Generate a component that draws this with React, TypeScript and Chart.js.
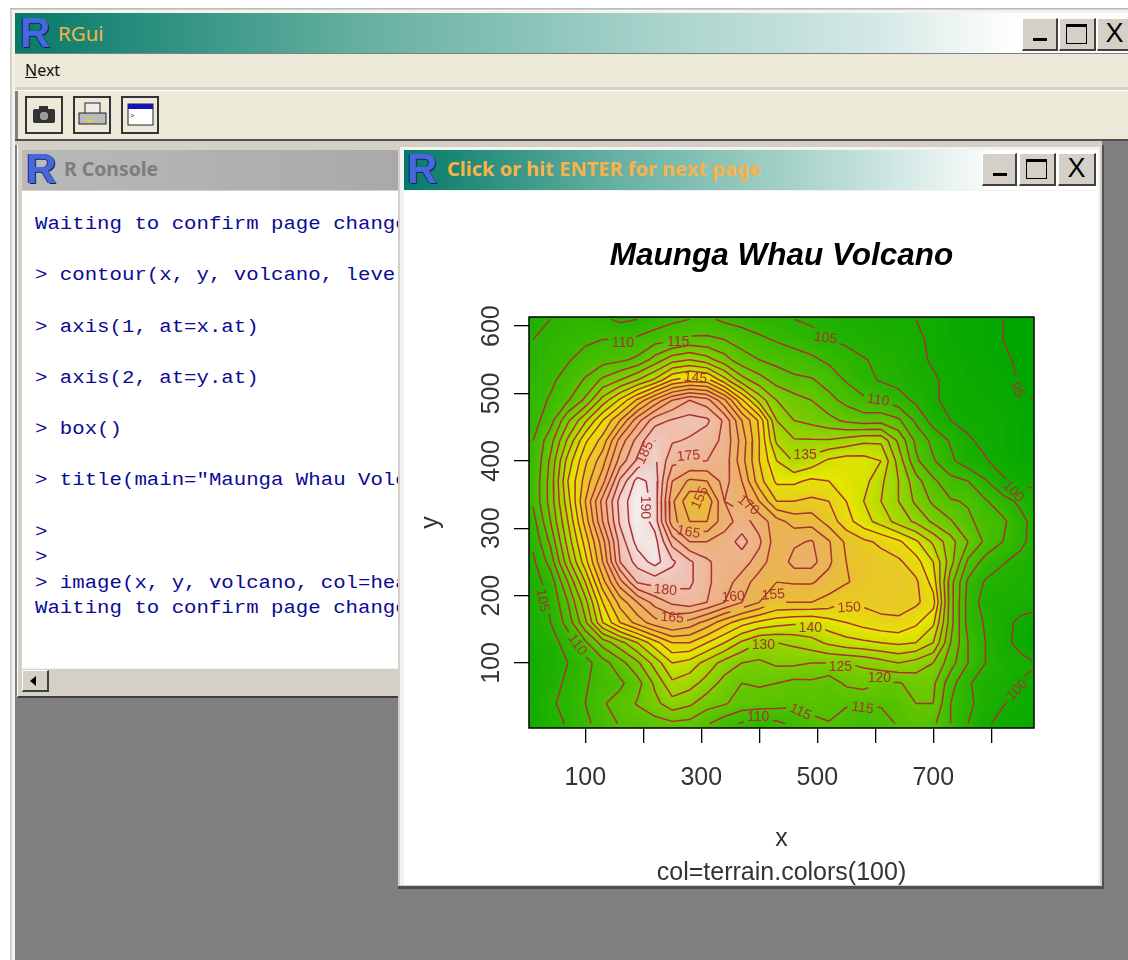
import React, { useEffect, useRef } from "react";
import { Chart, registerables } from "chart.js";

Chart.register(...registerables);

const chartTitle = "Maunga Whau Volcano";
const chartSubtitle = "col=terrain.colors(100)";
const xTicks = [100, 200, 300, 400, 500, 600, 700, 800];
const xTickLabels = ["100", "", "300", "", "500", "", "700", ""];
const yTicks = [100, 200, 300, 400, 500, 600];
const levels = [95, 100, 105, 110, 115, 120, 125, 130, 135, 140, 145, 150, 155, 160, 165, 170, 175, 180, 185, 190];

const xGrid = [10, 40, 70, 100, 130, 160, 190, 220, 250, 280, 310, 340, 370, 400, 430, 460, 490, 520, 550, 580, 610, 640, 670, 700, 730, 760, 790, 820, 850, 870];
const yGrid = [610, 580, 550, 520, 490, 460, 430, 400, 370, 340, 310, 280, 250, 220, 190, 160, 130, 100, 70, 40, 10];
const heights = [
  [103, 105, 107, 107, 106, 104, 105, 107, 109, 110, 111, 109, 108, 107, 106, 105, 104, 103, 102, 102, 101, 101, 100, 99, 98, 97, 96, 95, 94, 94],
  [105, 107, 108, 109, 110, 110, 111, 113, 114, 116, 116, 115, 113, 111, 109.5, 108, 107, 105, 104, 103, 102, 102, 101, 99, 98, 97, 96, 95, 94, 94],
  [106, 108, 109.5, 112, 113, 114, 116, 122, 128, 130, 127, 122, 117, 115, 113.5, 112.5, 111, 109, 107, 105.3, 104, 103, 101, 99.5, 98.5, 97.5, 96.5, 95.5, 94.5, 94],
  [107, 109, 112, 115.5, 121, 125, 130, 136, 145, 148, 147, 137, 127, 122, 118, 116, 115.5, 113, 109.5, 106.5, 104.5, 103.5, 102, 100.5, 99, 98, 97.5, 96.5, 94.7, 94],
  [108, 110.5, 114.5, 121, 132, 141, 151, 161, 170, 175, 172, 161, 146, 133, 125, 122, 120, 116.5, 113.5, 111, 110, 107, 104, 100.5, 99, 98.5, 98, 97, 96, 95],
  [108, 113, 124, 134, 145, 155, 168, 178, 180.5, 182, 181, 174, 160, 149, 130, 125, 123.5, 121.5, 119, 117.5, 118, 116, 109, 103, 100, 99, 99, 98, 97, 95],
  [110, 118, 131, 144, 152, 167, 177, 185, 180.5, 179.5, 177, 174, 163, 150, 134, 130.5, 130.5, 130.5, 132, 134, 134, 124, 114, 108.5, 104.5, 100.5, 99, 98, 97, 97],
  [110, 121, 137, 149, 158, 172, 181, 186, 176.5, 175.5, 175, 173, 162, 150, 140, 134.5, 137, 141, 142.5, 142, 140, 128, 116, 110.5, 106, 102, 100.3, 98.5, 97, 97],
  [110.8, 122, 140, 152, 163, 181, 192, 188, 170, 164, 165, 172, 165, 152, 144, 144, 146, 145, 142.5, 142, 136, 130, 122, 116, 111.5, 110, 105.5, 100.5, 99, 99],
  [110.8, 122, 138, 155, 172, 187, 194, 188, 166, 156, 156, 170, 168, 160, 150, 150, 151, 150, 145, 140, 135, 130, 124, 119, 115.5, 114.5, 110.5, 107, 104, 102],
  [108, 120, 135, 152, 170, 186, 194, 188, 167, 160, 160, 168, 172, 168, 162, 158, 158, 153, 147, 142, 138, 133, 129, 124, 120.5, 116, 113, 111, 106.5, 104],
  [106, 116, 132, 147, 163, 182, 192, 192, 178, 170, 170, 172, 177, 171, 162, 164, 165.5, 160.5, 154, 151, 149, 146, 141, 134, 127, 120, 114, 110, 106, 104],
  [104, 112, 128, 143, 160, 180, 187, 192, 186, 181, 176, 172, 172, 168, 161, 167, 167, 161, 155, 153.5, 152, 151, 147, 140, 127, 114, 108, 105.3, 103.8, 102],
  [103, 107, 120, 135, 153, 168, 180.5, 182, 182, 181, 176, 172, 168, 162, 160, 160.5, 160.5, 158, 155.5, 153, 151.5, 152, 151, 143, 122, 109, 104.5, 103.5, 102.5, 102],
  [102.5, 105.5, 115, 128, 145, 157, 165, 172, 176, 178, 175, 170, 165, 160, 155, 155, 155, 153, 150, 151, 152, 152, 151, 147, 122, 108, 103, 102, 102, 102],
  [102, 105, 112, 124, 140, 150, 157, 163, 166, 163, 158, 152, 147, 144, 142, 141, 140.5, 143, 145, 147, 148.5, 149, 146, 141, 122, 108, 104.5, 101.5, 99, 98],
  [101, 103, 107, 114, 122, 128, 135, 143, 150, 150, 145, 140, 134, 130, 130, 131, 133, 136, 138, 139, 140, 141, 140, 135, 120, 110, 105, 101, 99, 96],
  [100.5, 102, 105, 108, 113, 118, 124, 132, 140, 138, 133, 128, 125, 124, 126, 126, 125, 125, 125, 126, 128, 130, 128, 125, 117, 110, 105, 102, 101, 100.5],
  [100.5, 103, 106, 109.5, 112, 114, 118, 126, 134, 132, 128, 123, 120, 120.5, 120, 118.5, 119, 117, 121, 122, 120, 119.5, 122, 121, 112, 105.5, 103, 102, 99.8, 99],
  [100.5, 104, 107, 110, 114.5, 117, 120.5, 123.5, 128, 126, 122, 120.5, 118, 118, 117, 116, 117, 116.5, 115.5, 115.5, 115.5, 116.5, 120, 120, 110, 106, 103, 100.2, 99, 98],
  [100, 103, 105.5, 109, 112, 115.5, 116, 118, 119, 118.5, 115.5, 112, 109.5, 107, 109, 111, 113.5, 114.8, 113, 112, 113, 115.5, 117, 116, 110, 105, 100.5, 99, 98, 97],
];

const labelLevels = [110, 115, 145, 105, 95, 110, 135, 100, 175, 185, 190, 155, 170, 165, 180, 165, 160, 155, 150, 140, 130, 125, 120, 115, 115, 110, 100, 105, 110];
const labelX = [165, 260, 290, 514, 845, 605, 479, 838, 278, 203, 203, 298, 381, 278, 238, 250, 355, 424, 555, 488, 407, 540, 607, 471, 578, 398, 845, 26, 86];
const labelY = [575, 576, 523, 582, 505, 490, 409, 354, 407, 412, 331, 345, 334, 294, 208, 167, 198, 201, 182, 152, 127, 94, 78, 27, 33, 20, 60, 193, 127];
const labelAngle = [0, 0, 5, 8, 65, 8, 0, 45, -5, -65, 90, -65, 40, 10, 5, 5, -3, -5, -3, 0, 0, 0, 0, 25, 8, 0, -45, 80, 55];

const consoleLines = [
  "Waiting to confirm page change...",
  "",
  "> contour(x, y, volcano, levels=x.at)",
  "",
  "> axis(1, at=x.at)",
  "",
  "> axis(2, at=y.at)",
  "",
  "> box()",
  "",
  '> title(main="Maunga Whau Volcano")',
  "",
  ">",
  ">",
  "> image(x, y, volcano, col=heat.colors)",
  "Waiting to confirm page change...",
];

const BROWN = "#a8322e";
const Z_MIN = 94;
const Z_MAX = 195;

function hsv(h: number, s: number, v: number): string {
  const i = Math.floor(h * 6);
  const f = h * 6 - i;
  const p = v * (1 - s);
  const q = v * (1 - f * s);
  const t = v * (1 - (1 - f) * s);
  const m = [[v, t, p], [q, v, p], [p, v, t], [p, q, v], [t, p, v], [v, p, q]][((i % 6) + 6) % 6];
  return `rgb(${Math.round(m[0] * 255)},${Math.round(m[1] * 255)},${Math.round(m[2] * 255)})`;
}

// R's terrain.colors(100)
function terrainColors(n: number): string[] {
  const k = Math.floor(n / 2);
  const out: string[] = [];
  for (let i = 0; i < k; i++) {
    const t = i / (k - 1);
    out.push(hsv((4 / 12) * (1 - t) + (2 / 12) * t, 1, 0.65 + 0.25 * t));
  }
  const m = n - k + 1;
  for (let i = 1; i < m; i++) {
    const t = i / (m - 1);
    out.push(hsv((2 / 12) * (1 - t), 1 - t, 0.9 + 0.05 * t));
  }
  return out;
}
const palette = terrainColors(100);

function heightAt(x: number, y: number): number {
  const cx = Math.max(xGrid[0], Math.min(xGrid[xGrid.length - 1], x));
  const cy = Math.max(yGrid[yGrid.length - 1], Math.min(yGrid[0], y));
  let i = 0;
  while (i < xGrid.length - 2 && xGrid[i + 1] < cx) i++;
  let j = 0;
  while (j < yGrid.length - 2 && yGrid[j + 1] > cy) j++;
  const tx = (cx - xGrid[i]) / (xGrid[i + 1] - xGrid[i]);
  const ty = (yGrid[j] - cy) / (yGrid[j] - yGrid[j + 1]);
  const a = heights[j][i] * (1 - tx) + heights[j][i + 1] * tx;
  const b = heights[j + 1][i] * (1 - tx) + heights[j + 1][i + 1] * tx;
  return a * (1 - ty) + b * ty;
}

type P = { x: number; y: number };

// keep the label gaps open, as R's contour() does
function cutForLabels(level: number, p: P, q: P, out: (P | null)[]) {
  let pieces: [number, number][] = [[0, 1]];
  const sx = 0.58;
  const sy = 0.674;
  labelLevels.forEach((l, idx) => {
    if (l !== level) return;
    const r = 15;
    const dx = (q.x - p.x) * sx;
    const dy = (q.y - p.y) * sy;
    const fx = (p.x - labelX[idx]) * sx;
    const fy = (p.y - labelY[idx]) * sy;
    const a = dx * dx + dy * dy;
    if (a === 0) return;
    const b = 2 * (fx * dx + fy * dy);
    const c = fx * fx + fy * fy - r * r;
    const d = b * b - 4 * a * c;
    if (d <= 0) return;
    const t1 = (-b - Math.sqrt(d)) / (2 * a);
    const t2 = (-b + Math.sqrt(d)) / (2 * a);
    const next: [number, number][] = [];
    pieces.forEach(([s, e]) => {
      if (t2 <= s || t1 >= e) {
        next.push([s, e]);
      } else {
        if (t1 > s) next.push([s, t1]);
        if (t2 < e) next.push([t2, e]);
      }
    });
    pieces = next;
  });
  pieces.forEach(([s, e]) => {
    out.push({ x: p.x + (q.x - p.x) * s, y: p.y + (q.y - p.y) * s });
    out.push({ x: p.x + (q.x - p.x) * e, y: p.y + (q.y - p.y) * e });
    out.push(null);
  });
}

function contourPoints(level: number): P[] {
  const out: (P | null)[] = [];
  for (let j = 0; j < yGrid.length - 1; j++) {
    for (let i = 0; i < xGrid.length - 1; i++) {
      const c = [
        { x: xGrid[i], y: yGrid[j], z: heights[j][i] },
        { x: xGrid[i + 1], y: yGrid[j], z: heights[j][i + 1] },
        { x: xGrid[i + 1], y: yGrid[j + 1], z: heights[j + 1][i + 1] },
        { x: xGrid[i], y: yGrid[j + 1], z: heights[j + 1][i] },
      ];
      const cross: P[] = [];
      for (let e = 0; e < 4; e++) {
        const a = c[e];
        const b = c[(e + 1) % 4];
        if (a.z >= level !== b.z >= level) {
          const t = (level - a.z) / (b.z - a.z);
          cross.push({ x: a.x + (b.x - a.x) * t, y: a.y + (b.y - a.y) * t });
        }
      }
      if (cross.length === 2) cutForLabels(level, cross[0], cross[1], out);
      if (cross.length === 4) {
        cutForLabels(level, cross[0], cross[1], out);
        cutForLabels(level, cross[2], cross[3], out);
      }
    }
  }
  return out.map((p) => (p === null ? { x: NaN, y: NaN } : p));
}

const heatPlugin = {
  id: "heat",
  beforeDatasetsDraw(chart: any) {
    const { ctx, chartArea: a, scales } = chart;
    const step = 2;
    ctx.save();
    ctx.beginPath();
    ctx.rect(a.left, a.top, a.right - a.left, a.bottom - a.top);
    ctx.clip();
    for (let py = Math.floor(a.top); py < a.bottom; py += step) {
      const y = scales.y.getValueForPixel(py + step / 2);
      for (let px = Math.floor(a.left); px < a.right; px += step) {
        const x = scales.x.getValueForPixel(px + step / 2);
        const z = heightAt(x, y);
        const idx = Math.max(0, Math.min(99, Math.floor(((z - Z_MIN) / (Z_MAX - Z_MIN)) * 100)));
        ctx.fillStyle = palette[idx];
        ctx.fillRect(px, py, step, step);
      }
    }
    ctx.restore();
  },
  afterDatasetsDraw(chart: any) {
    const { ctx, chartArea: a, scales } = chart;
    ctx.save();
    ctx.fillStyle = BROWN;
    ctx.font = '14px "Liberation Sans"';
    ctx.textAlign = "center";
    ctx.textBaseline = "middle";
    labelLevels.forEach((l, i) => {
      ctx.save();
      ctx.translate(scales.x.getPixelForValue(labelX[i]), scales.y.getPixelForValue(labelY[i]));
      ctx.rotate((labelAngle[i] * Math.PI) / 180);
      ctx.fillText(String(l), 0, 0);
      ctx.restore();
    });
    ctx.strokeStyle = "#000";
    ctx.lineWidth = 1.5;
    ctx.strokeRect(a.left, a.top, a.right - a.left, a.bottom - a.top);
    ctx.restore();
  },
};

function VolcanoChart() {
  const ref = useRef<HTMLCanvasElement>(null);
  useEffect(() => {
    const axisFont = { family: '"Liberation Sans"', size: 25, lineHeight: 29 / 25 };
    const chart = new Chart(ref.current!, {
      type: "scatter",
      data: {
        datasets: levels.map((level) => ({
          label: String(level),
          data: contourPoints(level),
          showLine: true,
          spanGaps: false,
          borderColor: BROWN,
          borderWidth: 1.5,
          pointRadius: 0,
          tension: 0,
        })),
      },
      plugins: [heatPlugin],
      options: {
        animation: false,
        responsive: false,
        devicePixelRatio: 1,
        events: [],
        layout: { padding: { left: 0, right: 64, top: 0, bottom: 0 } },
        plugins: {
          legend: { display: false },
          tooltip: { enabled: false },
          title: {
            display: true,
            text: chartTitle,
            fullSize: false,
            color: "#000",
            font: { family: '"Liberation Sans"', size: 31.5, weight: "bold", style: "italic", lineHeight: 1.2 },
            padding: { top: 46, bottom: 42.2 },
          },
          subtitle: {
            display: true,
            text: chartSubtitle,
            position: "bottom",
            fullSize: false,
            color: "#333",
            font: { family: '"Liberation Sans"', size: 25, lineHeight: 24 / 25 },
            padding: 0,
          },
        },
        scales: {
          x: {
            type: "linear",
            min: 3,
            max: 873.7,
            afterBuildTicks: (axis: any) => {
              axis.ticks = xTicks.map((value) => ({ value }));
            },
            afterFit: (axis: any) => {
              axis.height = 133;
            },
            ticks: {
              autoSkip: false,
              minRotation: 0,
              maxRotation: 0,
              padding: 21,
              color: "#333",
              font: axisFont,
              callback: (v: any) => xTickLabels[xTicks.indexOf(Number(v))],
            },
            grid: { drawOnChartArea: false, drawTicks: true, tickLength: 15, color: "#000", lineWidth: 1.3 },
            border: { display: false },
            title: { display: true, text: "x", color: "#333", font: axisFont, padding: { top: 0, bottom: 7 } },
          },
          y: {
            type: "linear",
            min: 3.5,
            max: 613.5,
            afterBuildTicks: (axis: any) => {
              axis.ticks = yTicks.map((value) => ({ value }));
            },
            afterFit: (axis: any) => {
              axis.width = 125;
            },
            ticks: {
              autoSkip: false,
              minRotation: 90,
              maxRotation: 90,
              crossAlign: "center",
              padding: 1.5,
              color: "#333",
              font: axisFont,
            },
            grid: { drawOnChartArea: false, drawTicks: true, tickLength: 15, color: "#000", lineWidth: 1.3 },
            border: { display: false },
            title: { display: true, text: "y", color: "#333", font: axisFont, padding: { top: 13, bottom: 0 } },
          },
        },
      } as any,
    });
    return () => chart.destroy();
  }, []);
  return <canvas ref={ref} width={694} height={694} style={{ position: "absolute", left: 404, top: 191, width: 694, height: 694 }} />;
}

const box = (left: number, top: number, width: number, height: number, background: string, extra: any = {}) => ({
  position: "absolute" as const,
  left,
  top,
  width,
  height,
  background,
  ...extra,
});

function RLogo({ left, top }: { left: number; top: number }) {
  return (
    <span
      style={{
        position: "absolute",
        left,
        top,
        font: 'bold 42px/40px "Liberation Sans"',
        color: "#4668dc",
        textShadow: "1px 1px 0 #16235e, -1px 0 0 #16235e",
      }}
    >
      R
    </span>
  );
}

function WinButton({ left, top, width, height, kind }: { left: number; top: number; width: number; height: number; kind: string }) {
  return (
    <div
      style={{
        ...box(left, top, width, height, "#d4d0c8"),
        boxSizing: "border-box",
        borderTop: "1px solid #fff",
        borderLeft: "1px solid #fff",
        borderRight: "2px solid #404040",
        borderBottom: "2px solid #404040",
      }}
    >
      {kind === "min" && <div style={box(10, height - 14, 14, 3, "#000")} />}
      {kind === "max" && <div style={{ ...box(6, 5, width - 16, height - 13, "transparent"), border: "1.5px solid #000", borderTop: "3px solid #000", boxSizing: "border-box" }} />}
      {kind === "close" && (
        <span style={{ position: "absolute", left: 0, width: "100%", top: 0, textAlign: "center", font: `${height - 6}px/${height - 4}px "Liberation Sans"`, color: "#000" }}>X</span>
      )}
    </div>
  );
}

function ToolButton({ left, children }: { left: number; children: any }) {
  return (
    <div style={{ ...box(left, 96, 38, 38, "#ece9d8"), boxSizing: "border-box", border: "2px solid #333" }}>
      <svg width="34" height="34" style={{ position: "absolute", left: 0, top: 0 }}>
        {children}
      </svg>
    </div>
  );
}

export default function App() {
  const mono: any = { position: "absolute", left: 35, whiteSpace: "pre", font: '20px/24px "Liberation Mono"', color: "#0a0a96" };
  const lineTops = [225, 251, 276, 302, 328, 353, 379, 405, 430, 456, 481, 507, 533, 558, 584, 609];
  return (
    <div style={{ position: "fixed", left: 0, top: 0, width: 1128, height: 960, background: "#fff", overflow: "hidden", filter: "blur(0.45px)" }}>
      {/* outer frame */}
      <div style={box(10, 8, 1118, 952, "#d4d0c8", { borderTop: "1px solid #bbb" })} />
      <div style={box(12, 10, 1116, 950, "#f4f2ec")} />
      <div style={box(15, 13, 1113, 947, "#808080")} />
      {/* main title */}
      <div style={box(15, 13, 1113, 40, "linear-gradient(90deg,#057a68 0%,#62ae9f 30%,#a6d2ca 57%,#d6e9e6 78%,#ffffff 90%)")} />
      <RLogo left={20} top={13} />
      <span style={{ position: "absolute", left: 58, top: 20, font: '20.5px/26px "Noto Sans"', color: "#f7b24a" }}>RGui</span>
      <WinButton left={1022} top={18} width={36} height={33} kind="min" />
      <WinButton left={1059} top={18} width={37} height={33} kind="max" />
      <WinButton left={1097} top={18} width={36} height={33} kind="close" />
      {/* menu and toolbar */}
      <div style={box(15, 54, 1113, 33, "#ece9d8")} />
      <span style={{ position: "absolute", left: 25, top: 59, font: '16px/22px "Noto Sans"', color: "#111" }}>
        <u>N</u>ext
      </span>
      <div style={box(15, 87, 1113, 3, "#d4d0c8", { borderBottom: "1px solid #fff" })} />
      <div style={box(18, 91, 1110, 48, "#ece9d8")} />
      <div style={box(15, 139, 1113, 2, "#505050")} />
      <div style={box(15, 141, 1087, 4, "#d4d0c8")} />
      <ToolButton left={25}>
        <rect x="6" y="11" width="22" height="14" rx="2" fill="#333" />
        <rect x="12" y="8" width="9" height="4" fill="#333" />
        <circle cx="17" cy="18" r="5" fill="#999" stroke="#111" />
      </ToolButton>
      <ToolButton left={73}>
        <rect x="10" y="5" width="15" height="11" fill="#eee" stroke="#222" />
        <rect x="4" y="15" width="27" height="11" fill="#bbb" stroke="#222" />
        <rect x="11" y="22" width="8" height="2" fill="#ec3" />
      </ToolButton>
      <ToolButton left={121}>
        <rect x="5" y="6" width="25" height="21" fill="#fff" stroke="#222" />
        <rect x="5" y="6" width="25" height="5" fill="#1414b8" />
        <text x="7" y="20" fontSize="7" fontFamily="Liberation Mono" fill="#222">&gt;</text>
      </ToolButton>
      {/* console */}
      <div style={box(17, 145, 390, 553, "#d4d0c8", { borderBottom: "2px solid #404040", borderLeft: "1px solid #fff", boxSizing: "border-box" })} />
      <div style={box(22, 150, 378, 40, "linear-gradient(90deg,#b9b9b9,#a9a9a9)")} />
      <RLogo left={26} top={149} />
      <span style={{ position: "absolute", left: 64, top: 156, font: 'bold 20px/26px "Noto Sans"', color: "#7d7d7d", transformOrigin: "0 50%", transform: "scaleX(0.97)", whiteSpace: "nowrap" }}>R Console</span>
      <div style={{ ...box(22, 191, 378, 477, "#fff"), overflow: "hidden" }} />
      <div style={{ ...box(0, 191, 400, 477, "transparent"), overflow: "hidden" }}>
        {consoleLines.map((t, i) => (
          <span key={i} style={{ ...mono, top: lineTops[i] - 191 - 12, transformOrigin: "0 50%", transform: "scale(1.035,0.88)" }}>
            {t}
          </span>
        ))}
      </div>
      <div style={box(22, 668, 378, 25, "#d4d0c8", { borderTop: "1px solid #f4f2ec" })} />
      <div style={{ ...box(22, 670, 27, 22, "#d4d0c8"), boxSizing: "border-box", borderTop: "1px solid #fff", borderLeft: "1px solid #fff", borderRight: "2px solid #404040", borderBottom: "2px solid #404040" }}>
        <div style={{ position: "absolute", left: 7, top: 5, width: 0, height: 0, borderTop: "5px solid transparent", borderBottom: "5px solid transparent", borderRight: "6px solid #000" }} />
      </div>
      {/* graphics window */}
      <div style={box(398, 145, 706, 744, "#d4d0c8", { borderRight: "2px solid #505050", borderBottom: "3px solid #505050", boxSizing: "border-box" })} />
      <div style={box(400, 147, 700, 738, "#f4f2ec")} />
      <div style={box(404, 150, 694, 40, "linear-gradient(90deg,#057a68 0%,#64b0a2 30%,#a8d3cb 57%,#e6f2f0 78%,#ffffff 86%)")} />
      <RLogo left={407} top={149} />
      <span style={{ position: "absolute", left: 447, top: 156, font: 'bold 20px/26px "Noto Sans"', color: "#f7b24a", whiteSpace: "nowrap", transformOrigin: "0 50%" }}>
        Click or hit ENTER for next page
      </span>
      <WinButton left={982} top={153} width={35} height={33} kind="min" />
      <WinButton left={1019} top={153} width={37} height={33} kind="max" />
      <WinButton left={1058} top={153} width={38} height={33} kind="close" />
      <div style={box(404, 191, 694, 694, "#fff")} />
      <VolcanoChart />
    </div>
  );
}
